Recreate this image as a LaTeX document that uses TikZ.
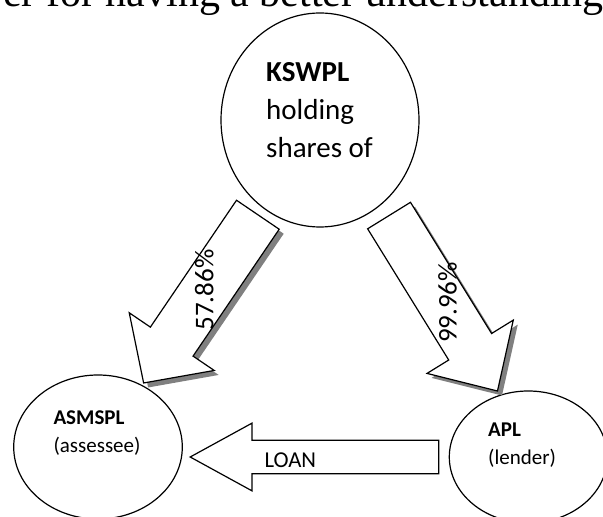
\documentclass[tikz,border=0pt]{standalone}
\usepackage{fontspec}
\setmainfont{Carlito}
\newfontfamily\cutserif{Liberation Serif}
\usetikzlibrary{shapes.geometric,calc,shadows}

\tikzset{
  party/.style={draw, ellipse, line width=1.2pt, inner sep=0pt},
  block/.style={draw, fill=white, line width=1.2pt, line join=miter},
  shadowed/.style={block, drop shadow={shadow xshift=4.5pt, shadow yshift=-4.5pt, opacity=1, fill=black!50}},
  % start gap, end gap, shaft width, head width, head length, side offset
  blockarrow/.style n args={6}{
    to path={
      let \p1=(\tikztostart), \p2=(\tikztotarget),
          \n1={atan2(\y2-\y1,\x2-\x1)},
          \n2={veclen(\x2-\x1,\y2-\y1)-(#2)}
      in [shift={(\p1)}, rotate=\n1]
      (#1,#6-#3/2) -- (\n2-#5,#6-#3/2) -- (\n2-#5,#6-#4/2) -- (\n2,#6)
      -- (\n2-#5,#6+#4/2) -- (\n2-#5,#6+#3/2) -- (#1,#6+#3/2) -- cycle
    }
  }
}

\begin{document}
\begin{tikzpicture}[x=1pt, y=1pt]
  \useasboundingbox (0,0) rectangle (603,517);
  \clip (0,0) rectangle (603,517);

  % running text cut off by the page edge
  \node[anchor=base east, inner sep=0pt, font=\cutserif\fontsize{42}{42}\selectfont] (runon) at (604,510.5) {er for having a better understanding};

  % companies
  \node[party, minimum width=198pt, minimum height=214pt] (kswpl) at (320,397) {};
  \node[party, minimum width=168.6pt, minimum height=144pt] (asmspl) at (98,70) {};
  \node[party, minimum width=158pt, minimum height=132pt] (apl) at (528.3,60) {};

  % multi-line texts sit on the baseline of their last line
  \node[anchor=base west, align=left, inner sep=0pt, font=\fontsize{29}{38}\selectfont] (kswpltxt) at (266,359) {\textbf{KSWPL}\\holding\\shares of};
  \node[anchor=base west, align=left, inner sep=0pt, font=\fontsize{21}{28}\selectfont] (asmspltxt) at (53.3,64) {\textbf{ASMSPL}\\(assessee)};
  \node[anchor=base west, align=left, inner sep=0pt, font=\fontsize{21}{28}\selectfont] (apltxt) at (488,52) {\textbf{APL}\\(lender)};

  % shareholding arrows
  \draw[shadowed, blockarrow={113.3}{78.6}{51.6}{102.7}{50}{1.8}] (kswpl) to (asmspl);
  \draw[shadowed, blockarrow={117.6}{72.3}{50.4}{101.4}{52}{8.5}] (kswpl) to (apl);

  % loan arrow
  \draw[block, blockarrow={10}{7.3}{33.4}{67.6}{61.7}{0}] (apl.west) to (asmspl.east |- apl.west);

  \node[anchor=base, rotate=90, inner sep=0pt, font=\fontsize{27}{27}\selectfont] (shareA) at (213.3,227) {57.86\%};
  \node[anchor=base, rotate=90, inner sep=0pt, font=\fontsize{27}{27}\selectfont] (shareB) at (456.7,214.5) {99.96\%};
  \node[anchor=base west, inner sep=0pt, font=\fontsize{22.7}{22.7}\selectfont] (loan) at (264.3,49.7) {LOAN};
\end{tikzpicture}
\end{document}
